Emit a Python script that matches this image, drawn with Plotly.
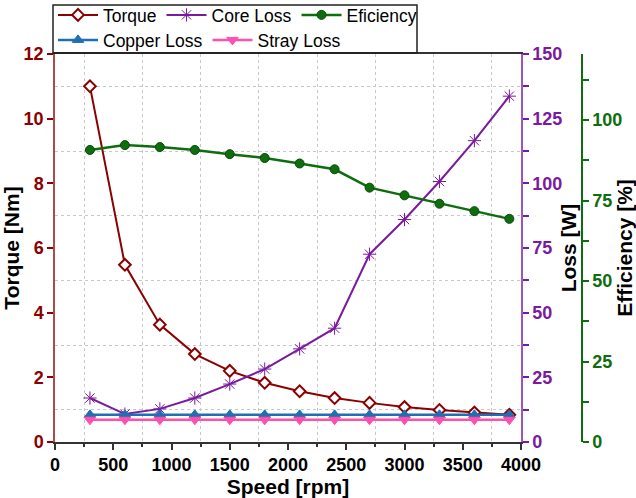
import plotly.graph_objects as go

speed = [300, 600, 900, 1200, 1500, 1800, 2100, 2400, 2700, 3000, 3300, 3600, 3900]
torque = [11.0, 5.48, 3.63, 2.72, 2.2, 1.83, 1.57, 1.36, 1.21, 1.08, 0.99, 0.91, 0.84]
core_loss = [17.0, 10.8, 12.8, 17.0, 22.4, 28.2, 36.0, 44.0, 72.6, 86.0, 100.7, 116.5, 133.7]
efficiency = [90.7, 92.2, 91.6, 90.7, 89.4, 88.2, 86.5, 84.7, 79.0, 76.6, 74.0, 71.7, 69.3]
copper_loss = [10.5] * 13
stray_loss = [8.6] * 13

FONT = "Liberation Sans, Arial, sans-serif"
RED = "#8B0000"
PURPLE = "#7A1A9E"
GREEN = "#0E6E0E"
BLUE = "#1F6FB2"
PINK = "#FF4FAF"

fig = go.Figure()
fig.add_trace(go.Scatter(x=speed, y=torque, name="Torque", mode="lines+markers",
                         line=dict(color=RED, width=2),
                         marker=dict(symbol="diamond", size=9, color="white", line=dict(color=RED, width=2)),
                         yaxis="y", legend="legend"))
fig.add_trace(go.Scatter(x=speed, y=core_loss, name="Core Loss", mode="lines+markers",
                         line=dict(color=PURPLE, width=2),
                         marker=dict(symbol="asterisk-open", size=11, color=PURPLE, line=dict(color=PURPLE, width=1)),
                         yaxis="y2", legend="legend"))
fig.add_trace(go.Scatter(x=speed, y=efficiency, name="Eficiency", mode="lines+markers",
                         line=dict(color=GREEN, width=2.5),
                         marker=dict(symbol="circle", size=9, color=GREEN, line=dict(color="#0A4A0A", width=1)),
                         yaxis="y3", legend="legend"))
fig.add_trace(go.Scatter(x=speed, y=copper_loss, name="Copper Loss", mode="lines+markers",
                         line=dict(color=BLUE, width=2.5),
                         marker=dict(symbol="triangle-up", size=10, color=BLUE, line=dict(color=BLUE, width=1)),
                         yaxis="y2", legend="legend2"))
fig.add_trace(go.Scatter(x=speed, y=stray_loss, name="Stray Loss", mode="lines+markers",
                         line=dict(color=PINK, width=2.5),
                         marker=dict(symbol="triangle-down", size=10, color=PINK, line=dict(color=PINK, width=1)),
                         yaxis="y2", legend="legend2"))

W, H = 636, 498
ml, mr, mt, mb = 55, 36, 54, 56
gw = W - ml - mr
gh = H - mt - mb
def px_x(p):
    return (p - ml) / gw
def px_y(p):
    return (H - mb - p) / gh

tickfont = lambda c: dict(family=FONT, size=18, color=c, weight="bold")
titlefont = dict(family=FONT, size=21, color="black", weight="bold")
grid = dict(showgrid=True, gridcolor="#c8c8c8", griddash="dot", gridwidth=1)

fig.update_layout(
    width=W, height=H,
    margin=dict(l=ml, r=mr, t=mt, b=mb, autoexpand=False),
    paper_bgcolor="white", plot_bgcolor="white",
    font=dict(family=FONT),
    xaxis=dict(domain=[0, px_x(521)], range=[0, 4000], dtick=500, tick0=0, automargin=False,
               ticks="outside", ticklen=6, tickwidth=1.5, tickcolor="#333",
               showline=True, linecolor="#333", linewidth=1.5, mirror=True,
               showgrid=False, zeroline=False,
               minor=dict(dtick=250, ticks="outside", ticklen=3, tickcolor="#333", **grid),
               tickfont=tickfont("black"),
               title=dict(text="Speed [rpm]", font=titlefont, standoff=0)),
    yaxis=dict(range=[0, 12], dtick=2, ticks="outside", ticklen=6, tickwidth=1.5, automargin=False,
               tickcolor=RED, showline=True, linecolor="#B04A4A", linewidth=1.5,
               showgrid=False, zeroline=False, tickfont=tickfont(RED),
               minor=dict(dtick=1, ticks="", **grid),
               title=dict(text="Torque [Nm]", font=titlefont, standoff=0)),
    yaxis2=dict(range=[0, 150], dtick=25, overlaying="y", side="right", anchor="x", automargin=False,
                ticks="outside", ticklen=6, tickwidth=1.5, tickcolor=PURPLE,
                showline=True, linecolor="#9A55BE", linewidth=1.5,
                showgrid=False, zeroline=False, tickfont=tickfont(PURPLE),
                minor=dict(dtick=12.5, ticks="outside", ticklen=6, tickcolor=PURPLE),
                title=dict(text="Loss [W]", font=titlefont, standoff=0)),
    yaxis3=dict(range=[0, 120.5], dtick=25, overlaying="y", side="right", anchor="free", automargin=False,
                position=px_x(582),
                ticks="outside", ticklen=6, tickwidth=1.5, tickcolor=GREEN,
                showline=True, linecolor=GREEN, linewidth=1.5,
                showgrid=False, zeroline=False, tickfont=tickfont(GREEN),
                minor=dict(dtick=12.5, ticks="outside", ticklen=6, tickcolor=GREEN),
                title=dict(text="Efficiency [%]", font=titlefont, standoff=0)),
    legend=dict(orientation="h", x=px_x(53), y=px_y(-3), xanchor="left", yanchor="top",
                bgcolor="rgba(0,0,0,0)", borderwidth=0,
                font=dict(family=FONT, size=17.5, color="black"), itemwidth=40),
    legend2=dict(orientation="h", x=px_x(53), y=px_y(22), xanchor="left", yanchor="top",
                 bgcolor="rgba(0,0,0,0)", borderwidth=0,
                 font=dict(family=FONT, size=17.5, color="black"), itemwidth=40),
    shapes=[dict(type="rect", xref="paper", yref="paper",
                 x0=px_x(53), x1=px_x(417), y0=px_y(53), y1=px_y(5),
                 line=dict(color="#222", width=1.5), fillcolor="rgba(255,255,255,0)", layer="above")],
)

fig.write_html("out.html")
